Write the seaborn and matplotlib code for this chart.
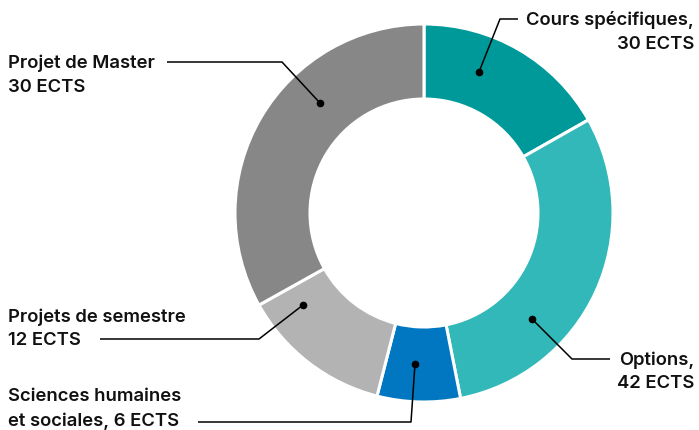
import matplotlib.pyplot as plt
import seaborn as sns

sns.set_theme(style="white")
plt.rcParams['font.family'] = ['Inter', 'DejaVu Sans']

# --- data ---
categories = ["Cours spécifiques", "Options", "Sciences humaines et sociales",
              "Projets de semestre", "Projet de Master"]
ects = [30, 42, 6, 12, 30]
# arc shares as drawn in the picture (percent of the ring)
shares = [16.8, 30.1, 7.1, 12.9, 33.1]
colors = ["#009999", "#33b8b9", "#0077c0", "#b3b3b3", "#878787"]

label_lines = [
    ["Cours spécifiques,", "30 ECTS"],
    ["Options,", "42 ECTS"],
    ["Sciences humaines", "et sociales, 6 ECTS"],
    ["Projets de semestre", "12 ECTS"],
    ["Projet de Master", "30 ECTS"],
]

W, H = 699, 431
fig = plt.figure(figsize=(W / 100, H / 100), dpi=100)
ax = fig.add_axes([0, 0, 1, 1])

cx, cy = 424, H - 214
ax.pie(shares, colors=colors, startangle=90, counterclock=False,
       center=(cx, cy), radius=189, frame=True,
       wedgeprops=dict(width=75, edgecolor="white", linewidth=2.2))
ax.set_xlim(0, W)
ax.set_ylim(0, H)
ax.set_aspect("equal")
ax.axis("off")

def py(y):
    return H - y

# leader lines (pixel coords, y down): path from dot to text end
leaders = [
    [(479, 73), (500, 20), (518, 20)],
    [(532, 320), (572, 360), (610, 360)],
    [(415, 365), (411, 423), (198, 423)],
    [(303, 306), (259, 340), (100, 340)],
    [(320, 104), (282, 63), (167, 63)],
]
for path in leaders:
    xs = [p[0] for p in path]
    ys = [py(p[1]) for p in path]
    ax.plot(xs, ys, color="black", lw=1.1, solid_capstyle="butt")
    ax.plot(xs[0], ys[0], "o", color="black", ms=4.5)

# label text positions: (x, y of first line, ha)
text_pos = [
    (694, 20, "right"),
    (694, 360, "right"),
    (8, 397, "left"),
    (8, 317, "left"),
    (8, 63, "left"),
]
for (x, y, ha), lines in zip(text_pos, label_lines):
    for i, line in enumerate(lines):
        ax.text(x, py(y + 24 * i), line, ha=ha, va="center", fontsize=13.3,
                fontweight="semibold", color="#111111")

fig.savefig("out.png", dpi=100)
